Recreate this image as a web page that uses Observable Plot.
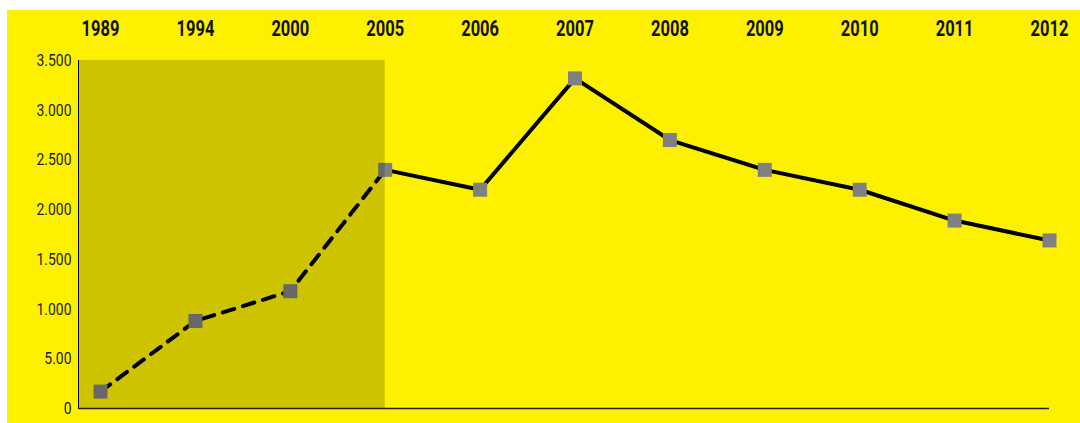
<!DOCTYPE html>
<html>
<head>
<meta charset="utf-8">
<script src="https://cdn.jsdelivr.net/npm/d3@7"></script>
<script src="https://cdn.jsdelivr.net/npm/@observablehq/plot@0.6"></script>
<style>
  html, body { margin: 0; padding: 0; background: #ffffff; }
  #chart { position: absolute; left: 7px; top: 10px; width: 1073px; height: 413px; background: #fef100; overflow: hidden; }
  #chart svg { display: block; background: #fef100; }
</style>
</head>
<body>
<div id="chart"></div>
<script>
// Data
const years = ["1989", "1994", "2000", "2005", "2006", "2007", "2008", "2009", "2010", "2011", "2012"];
const values = [170, 880, 1180, 2400, 2200, 3320, 2700, 2400, 2200, 1890, 1690];
const yTicks = [0, 500, 1000, 1500, 2000, 2500, 3000, 3500];
const yTickLabels = ["0", "5.00", "1.000", "1.500", "2.000", "2.500", "3.000", "3.500"];
const shadeEndYear = "2005";

const data = years.map((y, i) => ({ i, year: y, value: values[i] }));
const shadeEnd = years.indexOf(shadeEndYear);
const xStart = -0.232; // left edge of the plot frame, in index units
const early = data.filter(d => d.i <= shadeEnd);
const late = data.filter(d => d.i >= shadeEnd);

const chart = Plot.plot({
  width: 1073,
  height: 413,
  marginLeft: 71,
  marginRight: 31,
  marginTop: 50,
  marginBottom: 15,
  style: { background: "#fef100", color: "#111" },
  x: { type: "linear", domain: [xStart, years.length - 1] },
  y: { domain: [0, 3500] },
  marks: [
    Plot.line(early, { x: "i", y: "value", stroke: "#000", strokeWidth: 4, strokeDasharray: "12,9", strokeLinecap: "round" }),
    Plot.line(late, { x: "i", y: "value", stroke: "#000", strokeWidth: 4 }),
    Plot.dot(data, { x: "i", y: "value", symbol: "square", r: 7.9, fill: "#808080", stroke: null }),
    Plot.rect([{ x1: xStart, x2: shadeEnd, y1: 0, y2: 3500 }], { x1: "x1", x2: "x2", y1: "y1", y2: "y2", fill: "#000", fillOpacity: 0.19 }),
    Plot.ruleX([xStart], { stroke: "#000", strokeWidth: 1 }),
    Plot.ruleY([0], { stroke: "#222", strokeWidth: 1.5 }),
    Plot.axisX({
      anchor: "top",
      ticks: d3.range(years.length),
      tickFormat: i => years[i],
      tickSize: 0,
      tickPadding: 25,
      fontSize: 22,
      fontWeight: "bold",
      fontFamily: "Roboto",
      fill: "#111",
      label: null
    }),
    Plot.axisY({
      ticks: yTicks,
      tickFormat: v => yTickLabels[yTicks.indexOf(v)],
      tickSize: 0,
      tickPadding: 7,
      fontSize: 17,
      fontFamily: "Roboto",
      fill: "#222",
      label: null
    })
  ]
});
document.getElementById("chart").appendChild(chart);

// Condense tick labels horizontally (condensed typeface look)
function condense(sel, k) {
  d3.select(chart).selectAll(sel).each(function () {
    const t = this.getAttribute("transform") || "";
    this.setAttribute("transform", t + ` scale(${k},1)`);
  });
}
condense("g[aria-label='x-axis tick label'] text", 0.75);
condense("g[aria-label='y-axis tick label'] text", 0.82);
</script>
</body>
</html>
